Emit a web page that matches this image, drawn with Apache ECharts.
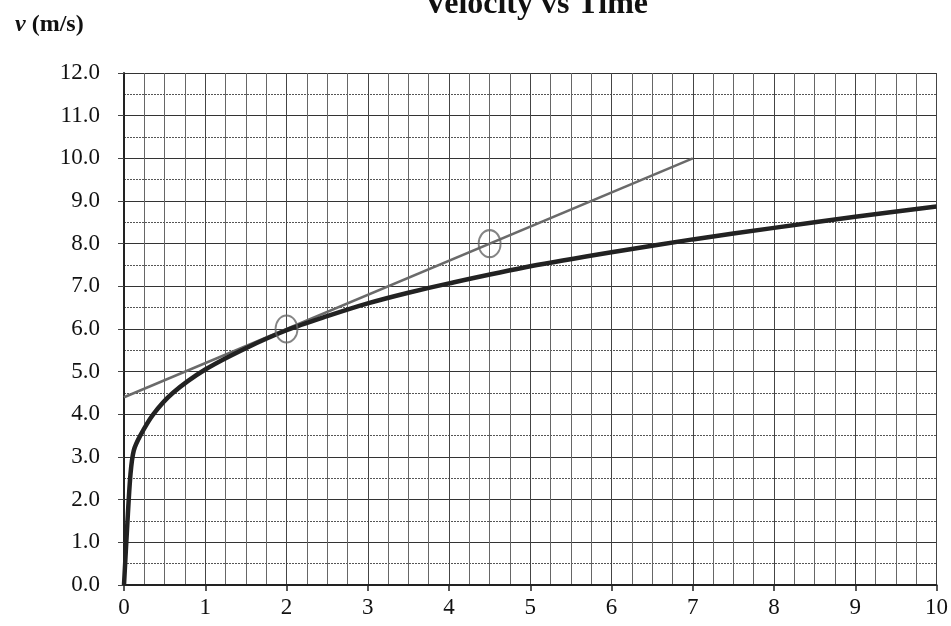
<!DOCTYPE html>
<html>
<head>
<meta charset="utf-8">
<script src="https://cdn.jsdelivr.net/npm/echarts@6/dist/echarts.min.js"></script>
<style>html,body{margin:0;padding:0;background:#fff}#c{width:951px;height:626px}</style>
</head>
<body>
<div id="c"></div>
<script>
// Data
var curveT = [0, 0.04, 0.08, 0.12, 0.2, 0.36, 0.6, 1.0, 1.5, 2, 2.5, 3, 3.5, 4, 5, 6, 7, 8, 9, 10];
var curveV = [0, 1.4, 2.6, 3.15, 3.5, 4.0, 4.5, 5.05, 5.55, 5.97, 6.3, 6.6, 6.85, 7.07, 7.47, 7.8, 8.1, 8.37, 8.63, 8.87];
var tangentT = [0, 7];
var tangentV = [4.4, 10.0];
var circleT = [2.0, 4.5];
var circleV = [6.0, 8.0];
var xTicks = [0, 1, 2, 3, 4, 5, 6, 7, 8, 9, 10];
var yTicks = ['0.0','1.0','2.0','3.0','4.0','5.0','6.0','7.0','8.0','9.0','10.0','11.0','12.0'];

function pairs(a, b) { return a.map(function (v, i) { return [v, b[i]]; }); }

var serif = 'Liberation Serif';
var chart = echarts.init(document.getElementById('c'));
var option = {
  animation: false,
  backgroundColor: '#fff',
  title: [{
    text: 'Velocity vs Time',
    left: 531, top: -16, textAlign: 'center',
    textStyle: { fontFamily: serif, fontWeight: 'bold', fontSize: 32, color: '#111' }
  }, {
    text: '{i|v} (m/s)',
    left: 10, top: 8,
    textStyle: {
      fontFamily: serif, fontWeight: 'bold', fontSize: 24, color: '#111',
      rich: { i: { fontFamily: serif, fontStyle: 'italic', fontWeight: 'bold', fontSize: 24, color: '#111' } }
    }
  }],
  grid: { left: 124, right: 11, top: 73, bottom: 41, containLabel: false },
  xAxis: {
    type: 'value', min: 0, max: 10, interval: 1,
    axisLine: { show: true, onZero: false, lineStyle: { color: '#222', width: 2 } },
    axisTick: { show: true, length: 6, lineStyle: { color: '#222', width: 1.5 } },
    axisLabel: {
      margin: 11, fontFamily: serif, fontSize: 23, color: '#111',
      formatter: function (v) { return xTicks.indexOf(v) >= 0 ? String(v) : ''; }
    },
    splitLine: { show: true, lineStyle: { color: '#444', width: 1 } },
    minorTick: { show: false, splitNumber: 4 },
    minorSplitLine: { show: true, lineStyle: { color: '#666', width: 1 } }
  },
  yAxis: {
    type: 'value', min: 0, max: 12, interval: 1,
    axisLine: { show: true, onZero: false, lineStyle: { color: '#222', width: 2 } },
    axisTick: { show: true, length: 6, lineStyle: { color: '#444', width: 1 } },
    axisLabel: {
      margin: 24, fontFamily: serif, fontSize: 23, color: '#111',
      formatter: function (v) { return yTicks[Math.round(v)]; }
    },
    splitLine: { show: true, lineStyle: { color: '#333', width: 1.2 } },
    minorTick: { show: false, splitNumber: 2 },
    minorSplitLine: { show: true, lineStyle: { color: '#555', width: 1, type: [2, 1] } }
  },
  series: [{
    name: 'tangent', type: 'line', data: pairs(tangentT, tangentV),
    symbol: 'none', lineStyle: { color: '#6a6a6a', width: 2.5 }, z: 3
  }, {
    name: 'velocity', type: 'line', data: pairs(curveT, curveV),
    symbol: 'none', smooth: 0.3,
    lineStyle: { color: '#222', width: 4.5 }, z: 4
  }, {
    name: 'circles', type: 'scatter', data: pairs(circleT, circleV),
    symbol: 'circle', symbolSize: [22, 27],
    itemStyle: { color: 'rgba(0,0,0,0)', borderColor: '#666', borderWidth: 2 }, z: 5
  }]
};
chart.setOption(option);

// y-axis arrow extension above the grid
var top = chart.convertToPixel({ gridIndex: 0 }, [0, 12]);
var ax = top[0];
chart.setOption({
  graphic: [{
    type: 'line', shape: { x1: ax, y1: top[1], x2: ax, y2: 18 },
    style: { stroke: '#222', lineWidth: 2 }
  }, {
    type: 'polyline', shape: { points: [[ax - 11, 33], [ax, 17], [ax + 13, 29]] },
    style: { stroke: '#222', lineWidth: 2, fill: null }
  }]
});
</script>
</body>
</html>
